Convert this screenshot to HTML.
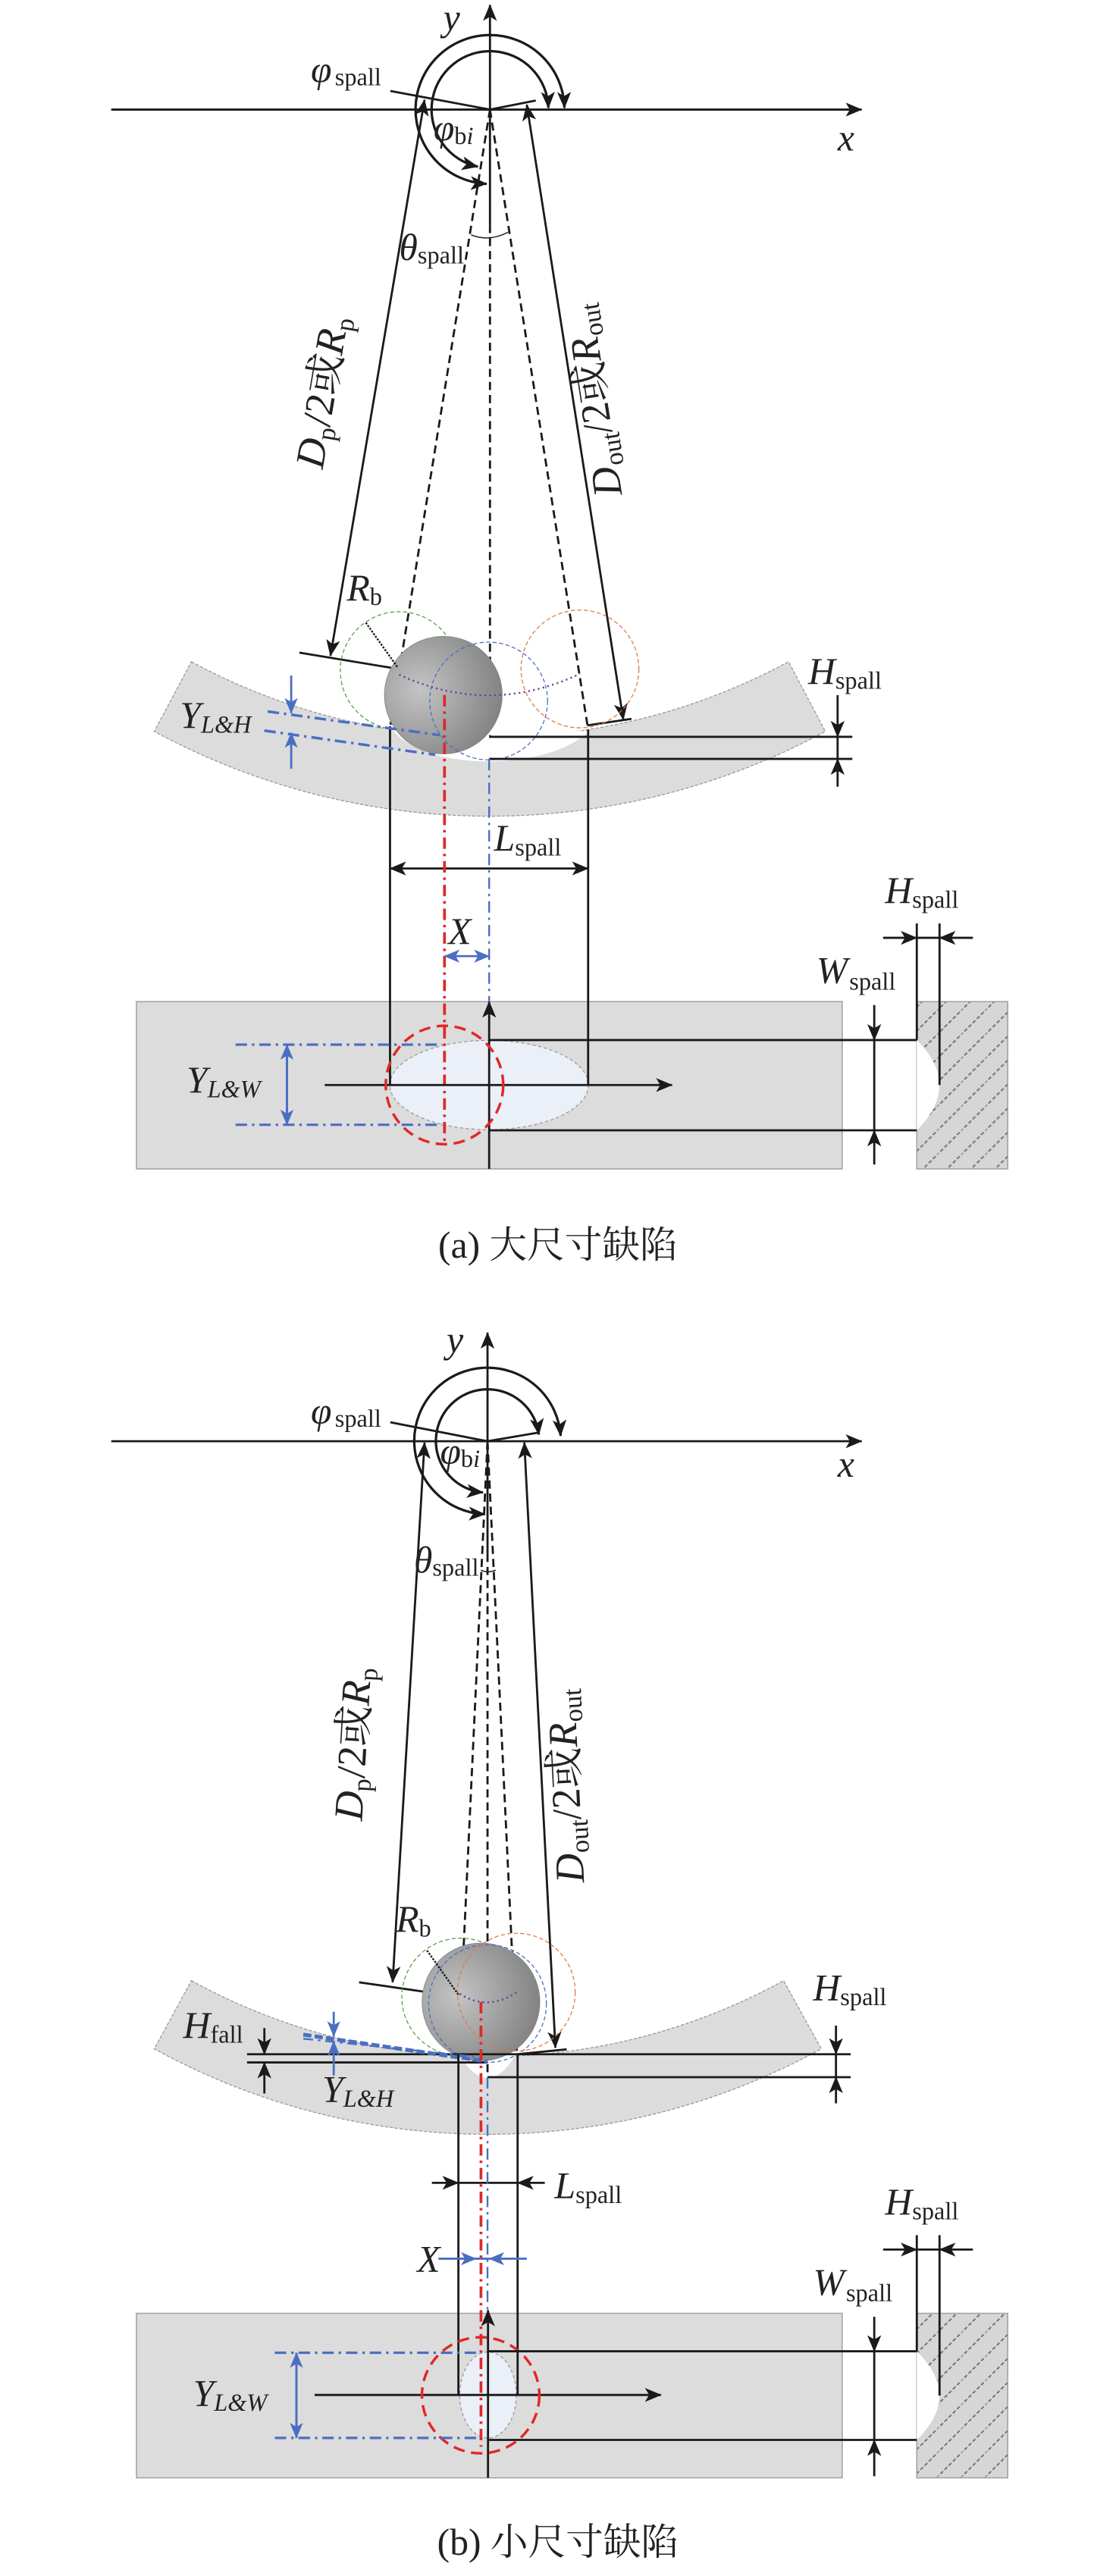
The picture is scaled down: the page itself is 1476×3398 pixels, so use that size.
<!DOCTYPE html>
<html><head><meta charset="utf-8"><style>
html,body{margin:0;padding:0;background:#fff;}
svg{display:block;}
text{font-family:"Liberation Serif","Noto Serif CJK SC",serif;fill:#222;}
.i{font-style:italic;}
line,path{stroke-width:1.3}
</style></head><body>
<svg width="1476" height="3398" viewBox="0 0 684 1575" preserveAspectRatio="none" xmlns="http://www.w3.org/2000/svg">
<defs>
<marker id="ah" viewBox="0 0 12 10" refX="11.5" refY="5" markerWidth="11" markerHeight="8.5" markerUnits="userSpaceOnUse" orient="auto-start-reverse"><path d="M0,0 L12,5 L0,10 L3,5 Z" fill="#1a1a1a" style="stroke:none"/></marker>
<marker id="bh" viewBox="0 0 12 10" refX="11.5" refY="5" markerWidth="10" markerHeight="8" markerUnits="userSpaceOnUse" orient="auto-start-reverse"><path d="M0,0 L12,5 L0,10 L3,5 Z" fill="#4a6fc2" style="stroke:none"/></marker>
<pattern id="hatch" patternUnits="userSpaceOnUse" width="14.7" height="14.7"><rect width="14.7" height="14.7" fill="#d6d6d6"/><path d="M-1,15.7 L15.7,-1" stroke="#707070" style="stroke-width:0.9" stroke-dasharray="2.2,1.4"/></pattern>
<radialGradient id="ball" cx="0.3" cy="0.45" r="0.8"><stop offset="0" stop-color="#c4c4c4"/><stop offset="1" stop-color="#7a7a7a"/></radialGradient>
</defs>

<g stroke-linecap="butt">
<!-- ===================== PANEL A ===================== -->
<path d="M117,404.6 A383.8,383.8 0 0 0 482,404.6 L504.5,447.2 A431.8,431.8 0 0 1 94.3,447.2 Z" fill="#dcdcdc" stroke="#999" style="stroke-width:0.6" stroke-dasharray="2,1"/>
<path d="M239,445 C258,472 335,472 360,447 Z" fill="#fff" style="stroke:none"/>
<rect x="83.4" y="612.4" width="431.4" height="102.3" fill="#dcdcdc" stroke="#a0a0a0" stroke-width="0.7"/>
<rect x="560.4" y="612.4" width="55.6" height="102.3" fill="url(#hatch)" stroke="#a0a0a0" stroke-width="0.7"/>
<path d="M560.4,635.9 Q588,663.4 560.4,691.1 Z" fill="#fff" style="stroke:none"/>
<ellipse cx="299" cy="663.4" rx="60.7" ry="27.3" fill="#eaeff8" stroke="#999" stroke-width="0.6" stroke-dasharray="2,1.5"/>

<line x1="68" y1="67" x2="526.7" y2="67" stroke="#1a1a1a" marker-end="url(#ah)"/>
<line x1="299.5" y1="137.5" x2="299.5" y2="3" stroke="#1a1a1a" marker-end="url(#ah)"/>
<line x1="299.5" y1="137.5" x2="299.5" y2="450" stroke="#1a1a1a" stroke-dasharray="5,3"/>
<path d="M345,66 A45.5,45.5 0 1 0 297.5,112.4" fill="none" stroke="#1a1a1a" style="stroke-width:1.5" marker-start="url(#ah)" marker-end="url(#ah)"/>
<path d="M335.2,66 A35.7,35.7 0 1 0 292.1,101.9" fill="none" stroke="#1a1a1a" style="stroke-width:1.5" marker-start="url(#ah)" marker-end="url(#ah)"/>
<line x1="238.6" y1="55.6" x2="299.5" y2="67" stroke="#1a1a1a"/>
<line x1="299.5" y1="67" x2="327.5" y2="61.5" stroke="#1a1a1a"/>
<line x1="259.5" y1="61" x2="202" y2="401" stroke="#1a1a1a" marker-start="url(#ah)" marker-end="url(#ah)"/>
<line x1="183" y1="399" x2="243.3" y2="409" stroke="#1a1a1a"/>
<line x1="322" y1="64" x2="381" y2="440" stroke="#1a1a1a" marker-start="url(#ah)" marker-end="url(#ah)"/>
<line x1="359" y1="443.5" x2="386" y2="439.5" stroke="#1a1a1a"/>
<line x1="299.5" y1="67" x2="238.6" y2="444" stroke="#1a1a1a" stroke-dasharray="5,3"/>
<line x1="299.5" y1="67" x2="359.5" y2="446" stroke="#1a1a1a" stroke-dasharray="5,3"/>
<path d="M288,143.6 Q299,148 310.5,142" fill="none" stroke="#1a1a1a" style="stroke-width:0.7"/>
<circle cx="244" cy="410" r="36" fill="none" stroke="#5aa04a" stroke-width="0.6" stroke-dasharray="2.5,1.5"/>
<circle cx="271" cy="425" r="36" fill="url(#ball)" stroke="#888" stroke-width="0.4"/>
<circle cx="298.7" cy="428.6" r="36" fill="none" stroke="#4a6fc2" stroke-width="0.6" stroke-dasharray="2.5,1.5"/>
<circle cx="354.5" cy="409" r="36" fill="none" stroke="#e07a40" stroke-width="0.6" stroke-dasharray="2.5,1.5"/>
<path d="M244,412.5 Q299,438 354.5,412" fill="none" stroke="#6a3d9a" style="stroke-width:1.1" stroke-dasharray="1,2"/>
<line x1="223.6" y1="380.7" x2="243" y2="408" stroke="#1a1a1a" style="stroke-width:1.1" stroke-dasharray="1.2,0.8"/>
<line x1="299" y1="450.5" x2="521" y2="450.5" stroke="#1a1a1a"/>
<line x1="299" y1="464" x2="521" y2="464" stroke="#1a1a1a"/>
<line x1="512" y1="425" x2="512" y2="450.5" stroke="#1a1a1a" marker-end="url(#ah)"/>
<line x1="512" y1="481" x2="512" y2="464" stroke="#1a1a1a" marker-end="url(#ah)"/>
<line x1="512" y1="450.5" x2="512" y2="464" stroke="#1a1a1a"/>
<line x1="238.4" y1="444" x2="238.4" y2="663.4" stroke="#1a1a1a"/>
<line x1="359.5" y1="446" x2="359.5" y2="663.4" stroke="#1a1a1a"/>
<line x1="238.4" y1="531" x2="359.5" y2="531" stroke="#1a1a1a" marker-start="url(#ah)" marker-end="url(#ah)"/>
<line x1="271.7" y1="425" x2="271.7" y2="700" stroke="#e02828" style="stroke-width:1.7" stroke-dasharray="7,3,1.5,3"/>
<line x1="299" y1="464" x2="299" y2="612" stroke="#4a6fc2" style="stroke-width:1.1" stroke-dasharray="7,3,1.5,3"/>
<line x1="271.7" y1="584.6" x2="299" y2="584.6" stroke="#4a6fc2" marker-start="url(#bh)" marker-end="url(#bh)"/>
<line x1="163.6" y1="435" x2="269" y2="449.5" stroke="#4a6fc2" style="stroke-width:1.6" stroke-dasharray="7,3,1.5,3"/>
<line x1="161.6" y1="446.7" x2="266" y2="461.5" stroke="#4a6fc2" style="stroke-width:1.6" stroke-dasharray="7,3,1.5,3"/>
<line x1="178" y1="413" x2="178" y2="436" stroke="#4a6fc2" marker-end="url(#bh)"/>
<line x1="178" y1="470" x2="178" y2="448" stroke="#4a6fc2" marker-end="url(#bh)"/>
<line x1="299" y1="714.7" x2="299" y2="612.4" stroke="#1a1a1a" marker-end="url(#ah)"/>
<line x1="198.5" y1="663.4" x2="410.8" y2="663.4" stroke="#1a1a1a" marker-end="url(#ah)"/>
<ellipse cx="271.7" cy="663.4" rx="35.9" ry="36.2" fill="none" stroke="#e02828" stroke-width="1.6" stroke-dasharray="7,4"/>
<line x1="144" y1="638.7" x2="270.3" y2="638.7" stroke="#4a6fc2" style="stroke-width:1.5" stroke-dasharray="7,3,1.5,3"/>
<line x1="144" y1="687.7" x2="270.3" y2="687.7" stroke="#4a6fc2" style="stroke-width:1.5" stroke-dasharray="7,3,1.5,3"/>
<line x1="175.4" y1="638.7" x2="175.4" y2="687.7" stroke="#4a6fc2" style="stroke-width:1.4" marker-start="url(#bh)" marker-end="url(#bh)"/>
<line x1="299" y1="635.9" x2="560.4" y2="635.9" stroke="#1a1a1a"/>
<line x1="299" y1="691.1" x2="560.4" y2="691.1" stroke="#1a1a1a"/>
<line x1="560.4" y1="564.6" x2="560.4" y2="635.9" stroke="#1a1a1a"/>
<line x1="574.3" y1="564.6" x2="574.3" y2="663.4" stroke="#1a1a1a"/>
<line x1="539.8" y1="573.4" x2="560.4" y2="573.4" stroke="#1a1a1a" marker-end="url(#ah)"/>
<line x1="594.7" y1="573.4" x2="574.3" y2="573.4" stroke="#1a1a1a" marker-end="url(#ah)"/>
<line x1="560.4" y1="573.4" x2="574.3" y2="573.4" stroke="#1a1a1a"/>
<line x1="534.4" y1="614.5" x2="534.4" y2="635.9" stroke="#1a1a1a" marker-end="url(#ah)"/>
<line x1="534.4" y1="712" x2="534.4" y2="691.1" stroke="#1a1a1a" marker-end="url(#ah)"/>
<line x1="534.4" y1="635.9" x2="534.4" y2="691.1" stroke="#1a1a1a"/>

<text x="271" y="18.5" font-size="23" class="i">y</text>
<text x="512" y="92" font-size="23" class="i">x</text>
<text x="190" y="50.2" font-size="23"><tspan class="i">φ</tspan><tspan font-size="15" dx="2" dy="2">spall</tspan></text>
<text x="265" y="86" font-size="23"><tspan class="i">φ</tspan><tspan font-size="15" dy="2">b</tspan><tspan font-size="15" class="i">i</tspan></text>
<text x="244" y="159" font-size="23"><tspan class="i">θ</tspan><tspan font-size="15" dy="2">spall</tspan></text>
<text transform="translate(205,241) rotate(-80.4)" text-anchor="middle" font-size="25"><tspan class="i">D</tspan><tspan font-size="16" dy="4">p</tspan><tspan dy="-4">/2或</tspan><tspan class="i">R</tspan><tspan font-size="16" dy="4">p</tspan></text>
<text transform="translate(371,243.6) rotate(-98.9)" text-anchor="middle" font-size="25"><tspan class="i">D</tspan><tspan font-size="16" dy="4">out</tspan><tspan dy="-4">/2或</tspan><tspan class="i">R</tspan><tspan font-size="16" dy="4">out</tspan></text>
<text x="212" y="367" font-size="23"><tspan class="i">R</tspan><tspan font-size="15" dy="3">b</tspan></text>
<text x="110" y="445" font-size="23"><tspan class="i">Y</tspan><tspan font-size="15" class="i" dy="3">L&amp;H</tspan></text>
<text x="494" y="418" font-size="23"><tspan class="i">H</tspan><tspan font-size="15" dy="3">spall</tspan></text>
<text x="302" y="520" font-size="23"><tspan class="i">L</tspan><tspan font-size="15" dy="3">spall</tspan></text>
<text x="274" y="577" font-size="23" class="i">X</text>
<text x="541" y="552" font-size="23"><tspan class="i">H</tspan><tspan font-size="15" dy="3">spall</tspan></text>
<text x="499" y="601" font-size="23"><tspan class="i">W</tspan><tspan font-size="15" dx="1" dy="4">spall</tspan></text>
<text x="114" y="668" font-size="23"><tspan class="i">Y</tspan><tspan font-size="15" class="i" dy="3">L&amp;W</tspan></text>
<text x="341" y="769" font-size="23" text-anchor="middle">(a) 大尺寸缺陷</text>

<!-- ===================== PANEL B ===================== -->
<path d="M117,1211 A376,376 0 0 0 479,1211 L502,1252.7 A423.9,423.9 0 0 1 94.3,1252.7 Z" fill="#dcdcdc" stroke="#999" style="stroke-width:0.6" stroke-dasharray="2,1"/>
<path d="M280,1255 Q298,1286 316,1255 Z" fill="#fff" style="stroke:none"/>
<rect x="83.4" y="1414.4" width="431.4" height="100.6" fill="#dcdcdc" stroke="#a0a0a0" stroke-width="0.7"/>
<rect x="560.4" y="1414.4" width="55.6" height="100.6" fill="url(#hatch)" stroke="#a0a0a0" stroke-width="0.7"/>
<path d="M560.4,1437.6 Q588,1464.7 560.4,1491.8 Z" fill="#fff" style="stroke:none"/>
<ellipse cx="298.3" cy="1464.3" rx="17.3" ry="26.3" fill="#eaeff8" stroke="#999" stroke-width="0.6" stroke-dasharray="2,1.5"/>

<line x1="68" y1="881.2" x2="526.7" y2="881.2" stroke="#1a1a1a" marker-end="url(#ah)"/>
<line x1="298" y1="950" x2="298" y2="814.8" stroke="#1a1a1a" marker-end="url(#ah)"/>
<line x1="298" y1="950" x2="298" y2="1270" stroke="#1a1a1a" stroke-dasharray="5,3"/>
<path d="M342.7,877.9 A44.8,44.8 0 1 0 296.4,925.8" fill="none" stroke="#1a1a1a" style="stroke-width:1.5" marker-start="url(#ah)" marker-end="url(#ah)"/>
<path d="M329.4,877.1 A31.6,31.6 0 1 0 295.2,912.5" fill="none" stroke="#1a1a1a" style="stroke-width:1.5" marker-start="url(#ah)" marker-end="url(#ah)"/>
<line x1="238.6" y1="869.6" x2="298" y2="881.2" stroke="#1a1a1a"/>
<line x1="298" y1="881.2" x2="329.8" y2="875.8" stroke="#1a1a1a"/>
<line x1="259.5" y1="882" x2="240" y2="1212" stroke="#1a1a1a" marker-start="url(#ah)" marker-end="url(#ah)"/>
<line x1="219.5" y1="1212" x2="281.6" y2="1221" stroke="#1a1a1a"/>
<line x1="320.5" y1="882" x2="339.5" y2="1252" stroke="#1a1a1a" marker-start="url(#ah)" marker-end="url(#ah)"/>
<line x1="316" y1="1256" x2="346.4" y2="1253" stroke="#1a1a1a"/>
<line x1="298" y1="881.2" x2="280.3" y2="1256" stroke="#1a1a1a" stroke-dasharray="5,3"/>
<line x1="298" y1="881.2" x2="316" y2="1256" stroke="#1a1a1a" stroke-dasharray="5,3"/>
<path d="M294,960 Q298,962 303,960" fill="none" stroke="#1a1a1a" style="stroke-width:0.7"/>
<circle cx="281.6" cy="1221" r="36" fill="none" stroke="#5aa04a" stroke-width="0.6" stroke-dasharray="2.5,1.5"/>
<circle cx="294" cy="1224" r="36" fill="url(#ball)" stroke="#888" stroke-width="0.4"/>
<circle cx="298" cy="1225" r="36" fill="none" stroke="#4a6fc2" stroke-width="0.6" stroke-dasharray="2.5,1.5"/>
<circle cx="315.6" cy="1218" r="36" fill="none" stroke="#e07a40" stroke-width="0.6" stroke-dasharray="2.5,1.5"/>
<path d="M281,1219 Q298,1230 316,1218" fill="none" stroke="#6a3d9a" style="stroke-width:1.1" stroke-dasharray="1,2"/>
<line x1="261" y1="1192.5" x2="280.5" y2="1220" stroke="#1a1a1a" style="stroke-width:1.1" stroke-dasharray="1.2,0.8"/>
<line x1="151" y1="1256" x2="520" y2="1256" stroke="#1a1a1a"/>
<line x1="151" y1="1261" x2="298" y2="1261" stroke="#1a1a1a"/>
<line x1="298" y1="1270" x2="520" y2="1270" stroke="#1a1a1a"/>
<line x1="161.6" y1="1240" x2="161.6" y2="1256" stroke="#1a1a1a" marker-end="url(#ah)"/>
<line x1="161.6" y1="1280" x2="161.6" y2="1261" stroke="#1a1a1a" marker-end="url(#ah)"/>
<line x1="511" y1="1238.5" x2="511" y2="1256" stroke="#1a1a1a" marker-end="url(#ah)"/>
<line x1="511" y1="1286" x2="511" y2="1270" stroke="#1a1a1a" marker-end="url(#ah)"/>
<line x1="511" y1="1256" x2="511" y2="1270" stroke="#1a1a1a"/>
<line x1="185.4" y1="1244" x2="298" y2="1260.5" stroke="#4a6fc2" style="stroke-width:2.4" stroke-dasharray="5,2"/>
<line x1="185.4" y1="1246.5" x2="295" y2="1258" stroke="#4a6fc2" style="stroke-width:1.1" stroke-dasharray="6,3,1.5,3"/>
<line x1="204" y1="1230" x2="204" y2="1245" stroke="#4a6fc2" marker-end="url(#bh)"/>
<line x1="204" y1="1269" x2="204" y2="1248" stroke="#4a6fc2" marker-end="url(#bh)"/>
<line x1="280.2" y1="1256" x2="280.2" y2="1464.3" stroke="#1a1a1a"/>
<line x1="316.4" y1="1256" x2="316.4" y2="1464.3" stroke="#1a1a1a"/>
<line x1="264" y1="1334.6" x2="280.2" y2="1334.6" stroke="#1a1a1a" marker-end="url(#ah)"/>
<line x1="333" y1="1334.6" x2="316.4" y2="1334.6" stroke="#1a1a1a" marker-end="url(#ah)"/>
<line x1="280.2" y1="1334.6" x2="316.4" y2="1334.6" stroke="#1a1a1a"/>
<line x1="294" y1="1224" x2="294" y2="1496" stroke="#e02828" style="stroke-width:1.7" stroke-dasharray="7,3,1.5,3"/>
<line x1="298" y1="1270" x2="298" y2="1413" stroke="#4a6fc2" style="stroke-width:1.1" stroke-dasharray="7,3,1.5,3"/>
<line x1="268" y1="1381" x2="291" y2="1381" stroke="#4a6fc2" marker-end="url(#bh)"/>
<line x1="322" y1="1381" x2="299" y2="1381" stroke="#4a6fc2" marker-end="url(#bh)"/>
<line x1="291" y1="1381" x2="299" y2="1381" stroke="#4a6fc2"/>
<line x1="298.3" y1="1515" x2="298.3" y2="1412.5" stroke="#1a1a1a" marker-end="url(#ah)"/>
<line x1="192.3" y1="1464.3" x2="404" y2="1464.3" stroke="#1a1a1a" marker-end="url(#ah)"/>
<ellipse cx="293.8" cy="1464.5" rx="35.9" ry="35.5" fill="none" stroke="#e02828" stroke-width="1.6" stroke-dasharray="7,4"/>
<line x1="168" y1="1438.5" x2="292.9" y2="1438.5" stroke="#4a6fc2" style="stroke-width:1.5" stroke-dasharray="7,3,1.5,3"/>
<line x1="168" y1="1490.6" x2="292.9" y2="1490.6" stroke="#4a6fc2" style="stroke-width:1.5" stroke-dasharray="7,3,1.5,3"/>
<line x1="181.2" y1="1438.5" x2="181.2" y2="1490.6" stroke="#4a6fc2" style="stroke-width:1.4" marker-start="url(#bh)" marker-end="url(#bh)"/>
<line x1="298.3" y1="1437.6" x2="560.4" y2="1437.6" stroke="#1a1a1a"/>
<line x1="298.3" y1="1491.8" x2="560.4" y2="1491.8" stroke="#1a1a1a"/>
<line x1="560.4" y1="1366.6" x2="560.4" y2="1437.6" stroke="#1a1a1a"/>
<line x1="574.3" y1="1366.6" x2="574.3" y2="1464.7" stroke="#1a1a1a"/>
<line x1="539.8" y1="1375.4" x2="560.4" y2="1375.4" stroke="#1a1a1a" marker-end="url(#ah)"/>
<line x1="594.7" y1="1375.4" x2="574.3" y2="1375.4" stroke="#1a1a1a" marker-end="url(#ah)"/>
<line x1="560.4" y1="1375.4" x2="574.3" y2="1375.4" stroke="#1a1a1a"/>
<line x1="534.4" y1="1416.5" x2="534.4" y2="1437.6" stroke="#1a1a1a" marker-end="url(#ah)"/>
<line x1="534.4" y1="1514" x2="534.4" y2="1491.8" stroke="#1a1a1a" marker-end="url(#ah)"/>
<line x1="534.4" y1="1437.6" x2="534.4" y2="1491.8" stroke="#1a1a1a"/>

<text x="273" y="827" font-size="23" class="i">y</text>
<text x="512" y="903" font-size="23" class="i">x</text>
<text x="190" y="870.4" font-size="23"><tspan class="i">φ</tspan><tspan font-size="15" dx="2" dy="2">spall</tspan></text>
<text x="269" y="895" font-size="23"><tspan class="i">φ</tspan><tspan font-size="15" dy="2">b</tspan><tspan font-size="15" class="i">i</tspan></text>
<text x="253" y="961.5" font-size="23"><tspan class="i">θ</tspan><tspan font-size="15" dy="2">spall</tspan></text>
<text transform="translate(224,1066.7) rotate(-86.6)" text-anchor="middle" font-size="25"><tspan class="i">D</tspan><tspan font-size="16" dy="4">p</tspan><tspan dy="-4">/2或</tspan><tspan class="i">R</tspan><tspan font-size="16" dy="4">p</tspan></text>
<text transform="translate(354,1091.6) rotate(-92.9)" text-anchor="middle" font-size="25"><tspan class="i">D</tspan><tspan font-size="16" dy="4">out</tspan><tspan dy="-4">/2或</tspan><tspan class="i">R</tspan><tspan font-size="16" dy="4">out</tspan></text>
<text x="242" y="1181" font-size="23"><tspan class="i">R</tspan><tspan font-size="15" dy="3">b</tspan></text>
<text x="112" y="1246" font-size="23"><tspan class="i">H</tspan><tspan font-size="15" dy="3">fall</tspan></text>
<text x="197" y="1285" font-size="23"><tspan class="i">Y</tspan><tspan font-size="15" class="i" dy="3">L&amp;H</tspan></text>
<text x="497" y="1223" font-size="23"><tspan class="i">H</tspan><tspan font-size="15" dy="3">spall</tspan></text>
<text x="339" y="1344" font-size="23"><tspan class="i">L</tspan><tspan font-size="15" dy="3">spall</tspan></text>
<text x="255" y="1389" font-size="23" class="i">X</text>
<text x="541" y="1354" font-size="23"><tspan class="i">H</tspan><tspan font-size="15" dy="3">spall</tspan></text>
<text x="497" y="1403" font-size="23"><tspan class="i">W</tspan><tspan font-size="15" dx="1" dy="4">spall</tspan></text>
<text x="118" y="1471" font-size="23"><tspan class="i">Y</tspan><tspan font-size="15" class="i" dy="3">L&amp;W</tspan></text>
<text x="341" y="1562" font-size="23" text-anchor="middle">(b) 小尺寸缺陷</text>
</g>
</svg>
</body></html>
